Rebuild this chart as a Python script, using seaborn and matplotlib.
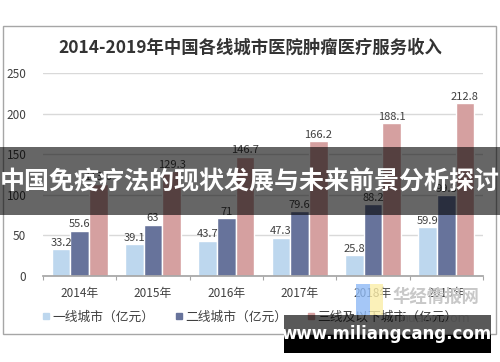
import matplotlib
matplotlib.use("Agg")
import matplotlib.pyplot as plt
import seaborn as sns
import pandas as pd
from matplotlib.patches import Rectangle
from matplotlib.lines import Line2D

years = ["2014年", "2015年", "2016年", "2017年", "2018年", "2019年"]
tier1 = [33.2, 39.1, 43.7, 47.3, 25.8, 59.9]
tier2 = [55.6, 63, 71, 79.6, 88.2, 99.3]
tier3 = [113.6, 129.3, 146.7, 166.2, 188.1, 212.8]
series_names = ["一线城市（亿元）", "二线城市（亿元）", "三线及以下城市（亿元）"]
colors = ["#BDD7EE", "#67739B", "#D5A0A0"]
title = "2014-2019年中国各线城市医院肿瘤医疗服务收入"
banner = "中国免疫疗法的现状发展与未来前景分析探讨"
yticks = [0, 50, 100, 150, 200, 250]

sns.set_theme(style="white")
plt.rcParams['font.family'] = ['Noto Sans CJK SC', 'DejaVu Sans']

W, H = 500, 362
fig = plt.figure(figsize=(5, 3.62), dpi=100)
fig.patch.set_facecolor("white")

def fx(x): return x / W
def fy(y): return 1 - y / H

ax = fig.add_axes([fx(43), fy(276), fx(483) - fx(43), fy(73) - fy(276)])

df = pd.DataFrame({
    "year": years * 3,
    "value": tier1 + tier2 + tier3,
    "series": sum([[n] * len(years) for n in series_names], []),
})
sns.barplot(data=df, x="year", y="value", hue="series", palette=colors,
            width=0.76, gap=0, ax=ax, legend=False, saturation=1, zorder=2)

for cont in ax.containers:
    labels = [("%g" % v) for v in cont.datavalues]
    ax.bar_label(cont, labels=labels, padding=1, fontsize=8, color="#404040")

ax.set_ylim(0, 250)
ax.set_xlim(-0.5, len(years) - 0.5)
ax.set_yticks(yticks)
ax.set_yticklabels([str(t) for t in yticks], fontsize=8.5, color="#404040")
ax.tick_params(axis="y", length=0, pad=12)
ax.set_xticks(range(len(years)))
ax.set_xticklabels(years, fontsize=8.5, color="#404040")
ax.tick_params(axis="x", which="major", length=0, pad=8)
ax.set_xticks([i - 0.5 for i in range(len(years) + 1)], minor=True)
ax.tick_params(axis="x", which="minor", length=3, color="#a6a6a6", width=0.8, bottom=True)
ax.grid(axis="y", color="#d9d9d9", linewidth=1)
ax.set_axisbelow(True)
for s in ["left", "right", "top"]:
    ax.spines[s].set_visible(False)
ax.spines["bottom"].set_color("#a6a6a6")
ax.set_xlabel("")
ax.set_ylabel("")

handles = [Line2D([0], [0], marker="s", linestyle="none", markersize=5,
                  markerfacecolor=c, markeredgecolor=c) for c in colors]
ax.legend(handles, series_names, loc="center", bbox_to_anchor=(fx(250), fy(317)),
          bbox_transform=fig.transFigure, ncol=3, frameon=False, fontsize=9.2,
          handlelength=0.6, handletextpad=0.2, columnspacing=1.6,
          labelcolor="#404040")

fig.text(fx(250), fy(48), title, ha="center", va="center", fontsize=12.5,
         fontweight="bold", color="#333333")

# chart frame
fig.add_artist(Rectangle((fx(3), fy(334)), fx(496) - fx(3), fy(26) - fy(334),
                         transform=fig.transFigure, fill=False,
                         edgecolor="#a6a6a6", linewidth=1, zorder=1))

# watermark logo
fig.add_artist(Rectangle((fx(356), fy(315)), fx(14), fy(284) - fy(315),
                         transform=fig.transFigure, facecolor="#8fbaf5",
                         edgecolor="none", alpha=0.8, zorder=2))
fig.add_artist(Rectangle((fx(370), fy(315)), fx(13), fy(284) - fy(315),
                         transform=fig.transFigure, facecolor="#fbeea8",
                         edgecolor="none", alpha=0.8, zorder=2))
fig.text(fx(436), fy(297), "华经情报网", ha="center", va="center", fontsize=12.5,
         fontweight="bold", color="#c8c8c8", zorder=2)
fig.text(fx(436), fy(318), "huaon.com", ha="center", va="center", fontsize=9,
         color="#e6e6e6", zorder=2, family="DejaVu Sans")

# banner
fig.add_artist(Rectangle((0, fy(215)), 1, fy(147) - fy(215),
                         transform=fig.transFigure, facecolor="black",
                         edgecolor="none", alpha=0.6, zorder=3))
fig.text(fx(250), fy(182), banner, ha="center", va="center", fontsize=18,
         fontweight="bold", color="white", zorder=4)

# url box
fig.add_artist(Rectangle((fx(284), fy(335)), fx(491) - fx(284), fy(315) - fy(335),
                         transform=fig.transFigure, facecolor="black",
                         edgecolor="none", alpha=0.65, zorder=3))
fig.add_artist(Rectangle((fx(284), fy(353)), fx(491) - fx(284), fy(335) - fy(353),
                         transform=fig.transFigure, facecolor="black",
                         edgecolor="none", alpha=1.0, zorder=3))
fig.text(fx(387), fy(334), "www.miliangcang.com", ha="center", va="center",
         fontsize=12, fontweight="bold", color="white", zorder=4,
         family="DejaVu Sans")

fig.savefig("out.png", dpi=100)
